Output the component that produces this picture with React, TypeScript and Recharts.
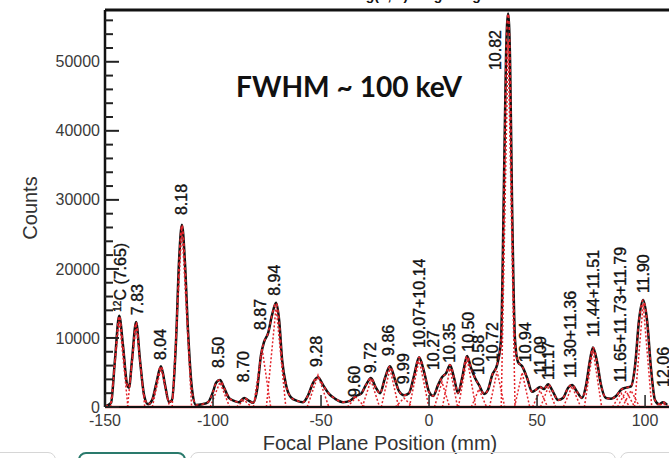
import { ComposedChart, Line, Scatter, XAxis, YAxis, ReferenceLine } from "recharts";

// measured spectrum (black)
const positions = [
  -150, -147.2, -145.4, -143.4, -141.7, -139.8, -138.9, -137.5, -135.6, -133.8,
  -131.9, -130.1, -128.2, -126.4, -124.1, -122.2, -120.4, -119, -117.1, -115.7,
  -114.4, -113, -111.6, -109.7, -107.9, -105.1, -102.3, -100, -98.6, -96.8,
  -94.9, -92.6, -90.3, -88, -85.6, -83.3, -81.5, -79.6, -77.8, -76.4,
  -74.5, -72.7, -70.8, -69.4, -68, -66.2, -63.9, -61.1, -58.3, -56,
  -53.7, -51.4, -49.1, -46.3, -43.5, -39.8, -36.6, -33.8, -31.5, -29.2,
  -26.9, -24.6, -22.7, -20.4, -18.1, -15.7, -13.9, -11.6, -9.3, -6.9,
  -4.6, -2.3, 0, 1.9, 4.2, 6, 7.9, 9.7, 11.6, 13.4,
  15.3, 17.6, 19.4, 21.3, 23.1, 25.5, 27.3, 29.2, 31.5, 33.3,
  34.7, 35.6, 36.6, 37.5, 38.4, 39.8, 41.2, 43.1, 45.4, 47.7,
  49.5, 51.4, 53.2, 55.1, 57.4, 59.7, 62, 64.4, 66.2, 68.5,
  70.8, 72.7, 74.5, 75.9, 77.8, 79.6, 81.9, 84.3, 86.6, 88.9,
  91.2, 93.5, 95.4, 97.2, 99.1, 100.9, 102.8, 104.6, 106.5, 108.3,
  110.2,
];
const counts = [
  100, 600, 6800, 13200, 9000, 3300, 2800, 6800, 12300, 6800,
  1700, 400, 1000, 3200, 5900, 3200, 700, 1000, 9700, 21300,
  26400, 21000, 11200, 2500, 300, 400, 700, 2200, 3500, 3900,
  2800, 1300, 900, 700, 1300, 900, 600, 2500, 7500, 9400,
  10700, 13300, 15100, 12600, 6800, 3200, 1400, 900, 700, 1700,
  3500, 4300, 3200, 1900, 1200, 700, 900, 1600, 1900, 3200,
  4200, 2800, 2000, 4200, 5900, 3900, 2300, 1700, 2000, 4600,
  7200, 5100, 2200, 1600, 3200, 4300, 4900, 6100, 4200, 2000,
  4200, 7400, 5700, 4200, 3200, 1900, 2500, 4600, 6100, 9700,
  32900, 50300, 57000, 50300, 30000, 9700, 6500, 5900, 4200, 2200,
  2500, 2900, 2600, 3300, 2200, 1000, 1300, 2800, 3200, 2200,
  1300, 3200, 6800, 8600, 6500, 3200, 1300, 1200, 1600, 2500,
  2800, 3000, 6100, 12600, 15500, 12600, 5400, 1000, 400, 700,
  300,
];

// fitted peak components (red dashed)
const fitCenter = [
  -143.4, -135.6, -124.1, -114.4, -96.8, -85.6, -77.3, -70.8, -51.4, -33.8,
  -26.9, -18.1, -11.6, -4.6, 6, 9.7, 17.6, 23.1, 31.5, 36.6,
  43.1, 51.4, 55.1, 66.2, 75.9, 88.9, 91.2, 93.5, 99.1, 108.3,
];
const fitHeight = [
  12800, 12000, 5700, 26000, 3600, 1000, 8500, 14500, 4600, 1400,
  3900, 5600, 1300, 6900, 3600, 5600, 7100, 2600, 5200, 53000,
  5000, 2400, 2800, 3000, 8300, 2000, 2300, 2400, 15000, 500,
];
const fitHalfWidth = [
  4, 4, 4, 4.5, 4.5, 3.5, 4, 4.5, 5, 4,
  4, 4, 4, 4.5, 3.5, 3.5, 4, 3.5, 3.5, 3.2,
  3.5, 3.5, 3.5, 4, 4, 4, 4, 4, 4, 3,
];

// state labels
const peakLabels = [
  "12C (7.65)", "7.83", "8.04", "8.18", "8.50", "8.70", "8.87", "8.94", "9.28", "9.60",
  "9.72", "9.86", "9.99", "10.07+10.14", "10.27", "10.35", "10.50", "10.58", "10.72", "10.82",
  "10.94", "11.09", "11.17", "11.30+11.36", "11.44+11.51", "11.65+11.73+11.79", "11.90", "12.06",
];
const labelX = [
  -143.1, -135.2, -124.5, -114.8, -97.7, -86.1, -78.2, -71.8, -52.3, -34.7,
  -27.3, -19, -12, -4.6, 2.1, 9.5, 18.1, 22.7, 29.2, 30.6,
  44.4, 51.3, 55, 65.2, 75.9, 88.4, 99, 108.3,
];
const labelY = [
  13800, 13300, 6800, 27800, 5650, 3600, 11150, 16100, 5800, 1450,
  4900, 7400, 3300, 8550, 5350, 6400, 8000, 4650, 6500, 48800,
  6500, 4650, 3900, 4200, 10150, 3600, 16500, 2900,
];

const xTicks = [-150, -100, -50, 0, 50, 100];
const yTicks = [
  0, 2000, 4000, 6000, 8000, 10000, 12000, 14000, 16000, 18000,
  20000, 22000, 24000, 26000, 28000, 30000, 32000, 34000, 36000, 38000,
  40000, 42000, 44000, 46000, 48000, 50000, 52000, 54000, 56000,
];

const RED = "#e3242b";
const FONT = "'Liberation Sans', Arial, sans-serif";

const rows = positions.map((x, i) => ({ x, counts: counts[i] }));
const fits = fitCenter.map((c, i) => [
  { x: c - fitHalfWidth[i], fit: 0 },
  { x: c, fit: fitHeight[i] },
  { x: c + fitHalfWidth[i], fit: 0 },
]);
const labels = peakLabels.map((text, i) => ({ x: labelX[i], lab: labelY[i], text }));

const CountTick = (props: any) => {
  const { x, y, payload } = props;
  const major = payload.value % 10000 === 0;
  return (
    <g>
      <line x1={x} x2={x + (major ? 14 : 8)} y1={y} y2={y} stroke="#222" strokeWidth={2} />
      {major && (
        <text x={x - 5} y={y} dy="0.35em" textAnchor="end" fontSize={16} fill="#3a3a3a" fontFamily={FONT}>
          {payload.value}
        </text>
      )}
    </g>
  );
};

const PosTick = (props: any) => {
  const { x, y, payload } = props;
  return (
    <g>
      <line x1={x} x2={x} y1={y} y2={y - 12} stroke="#222" strokeWidth={1.5} />
      <text x={x} y={y + 19} textAnchor="middle" fontSize={16} fill="#3a3a3a" fontFamily={FONT}>
        {payload.value}
      </text>
    </g>
  );
};

const PeakLabel = (props: any) => {
  const { cx, cy, payload } = props;
  const t: string = payload.text;
  const sup = t.startsWith("12C");
  return (
    <text
      x={cx}
      y={cy}
      dy="0.36em"
      transform={`rotate(-90 ${cx} ${cy})`}
      fontSize={16}
      fill="#111"
      stroke="#111"
      strokeWidth={0.35}
      fontFamily={FONT}
    >
      {sup ? (
        <>
          <tspan fontSize={10} baselineShift="super">12</tspan>
          <tspan>{t.slice(2)}</tspan>
        </>
      ) : (
        t
      )}
    </text>
  );
};

export default function App() {
  return (
    <div
      style={{
        position: "absolute",
        left: 0,
        top: 0,
        width: 669,
        height: 458,
        overflow: "hidden",
        background: "#fff",
        fontFamily: FONT,
      }}
    >
      <ComposedChart width={680} height={458} data={rows} margin={{ top: 10, right: 9, bottom: 21, left: 0 }}>
        <XAxis
          dataKey="x"
          type="number"
          domain={[-150, 112]}
          allowDataOverflow
          ticks={xTicks}
          interval={0}
          tickSize={0}
          tickMargin={0}
          tick={<PosTick />}
          tickLine={false}
          height={30}
          axisLine={{ stroke: "#111", strokeWidth: 2 }}
        />
        <YAxis
          type="number"
          domain={[0, 57500]}
          allowDataOverflow
          ticks={yTicks}
          interval={0}
          tickSize={0}
          tickMargin={0}
          tick={<CountTick />}
          tickLine={false}
          width={105}
          axisLine={{ stroke: "#111", strokeWidth: 2.5 }}
        />
        <ReferenceLine y={57500} stroke="#111" strokeWidth={3} />
        <ReferenceLine y={0} stroke={RED} strokeWidth={2.5} />
        <Line
          dataKey="counts"
          type="monotone"
          stroke="#111"
          strokeWidth={2.5}
          dot={false}
          isAnimationActive={false}
        />
        {fits.map((d, i) => (
          <Line
            key={i}
            data={d}
            dataKey="fit"
            type="linear"
            stroke={RED}
            strokeWidth={1.5}
            strokeDasharray="2 2"
            dot={false}
            isAnimationActive={false}
          />
        ))}
        <Line
          dataKey="counts"
          type="monotone"
          stroke={RED}
          strokeWidth={1.6}
          strokeDasharray="3 3"
          dot={false}
          isAnimationActive={false}
        />
        <Scatter data={labels} dataKey="lab" shape={<PeakLabel />} isAnimationActive={false} />
      </ComposedChart>

      <svg width={669} height={458} style={{ position: "absolute", left: 0, top: 0, pointerEvents: "none" }}>
        <text x={412} y={0} textAnchor="middle" fontSize={14} fontWeight="bold" fill="#111" fontFamily={FONT}>
          Fitting(α,α′) Large Angle
        </text>
        <text
          x={236}
          y={97}
          fontSize={29}
          fontWeight={700}
          fill="#111"
          fontFamily="Lato, 'Open Sans', sans-serif"
          textLength={226}
          lengthAdjust="spacingAndGlyphs"
        >
          FWHM ~ 100 keV
        </text>
        <text
          x={30}
          y={208}
          dy="0.35em"
          transform="rotate(-90 30 208)"
          textAnchor="middle"
          fontSize={20}
          fill="#333"
          fontFamily={FONT}
        >
          Counts
        </text>
        <text x={380} y={450} textAnchor="middle" fontSize={20} fill="#333" fontFamily={FONT}>
          Focal Plane Position (mm)
        </text>
      </svg>

      <div style={{ position: "absolute", left: -10, top: 452, width: 64, height: 20, border: "1px solid #d6d6d6", borderRadius: 8 }} />
      <div style={{ position: "absolute", left: 78, top: 452, width: 104, height: 20, border: "2px solid #2a7a6c", borderRadius: 8 }} />
      <div style={{ position: "absolute", left: 190, top: 452, width: 424, height: 20, border: "1px solid #d6d6d6", borderRadius: 8 }} />
      <div style={{ position: "absolute", left: 620, top: 452, width: 60, height: 20, border: "1px solid #d6d6d6", borderRadius: 8 }} />
    </div>
  );
}
